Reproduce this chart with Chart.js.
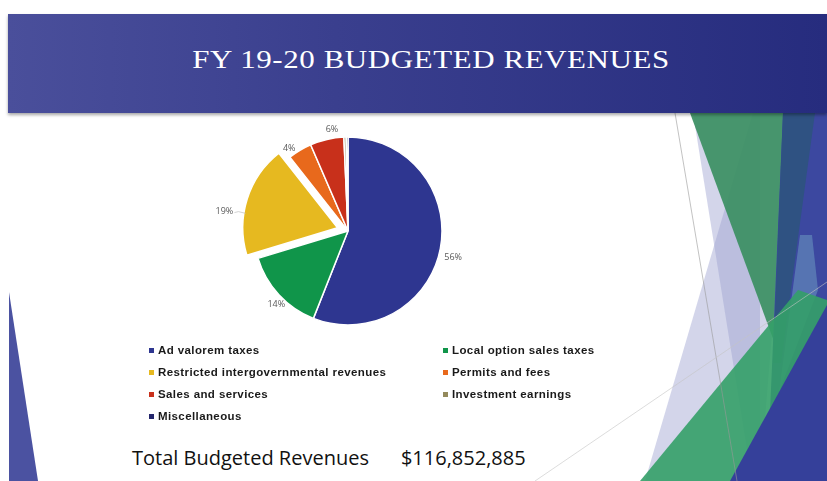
<!DOCTYPE html>
<html>
<head>
<meta charset="utf-8">
<script src="https://cdn.jsdelivr.net/npm/chart.js@4.4.0/dist/chart.umd.min.js"></script>
<style>
  html, body { margin: 0; padding: 0; background: #fff; overflow: hidden; }
  #slide { position: relative; width: 827px; height: 481px; overflow: hidden; background: #fff; }
  #deco { position: absolute; left: 0; top: 0; }
  #titlebar {
    position: absolute; left: 8px; top: 14px; width: 819px; height: 99px;
    background: linear-gradient(to right, #4a4f9b 0%, #3a3f8e 40%, #262c7e 100%);
    box-shadow: 0 2px 3px rgba(0,0,0,0.35);
  }
  #title {
    position: absolute; left: 6px; top: 45px; width: 850px; text-align: center;
    color: #fff; font-family: "Liberation Serif", serif; font-size: 26px; letter-spacing: 0.5px;
    transform: scaleX(1.19); transform-origin: 425px 0; line-height: 30px;
  }
  #pieWrap { position: absolute; left: 198px; top: 111px; width: 300px; height: 240px; }
  .leg { position: absolute; font-family: "Liberation Sans", sans-serif; font-weight: bold;
         font-size: 11.5px; color: #1a1a1a; white-space: nowrap; letter-spacing: 0.4px; }
  .leg i { display: inline-block; width: 5px; height: 5px; margin-right: 4px; vertical-align: 1px; }
  #total { position: absolute; left: 132px; top: 444px; font-family: "Open Sans", sans-serif;
           font-size: 20px; color: #111; white-space: nowrap; }
  #total span { margin-left: 32px; }
</style>
</head>
<body>
<div id="slide">
  <svg id="deco" width="827" height="481">
    <polygon points="9,292 9,481 38,481" fill="#4b52a1"/>
    <polygon points="753,113 790,113 760,481 645,481" fill="#9ea2d0" fill-opacity="0.45"/>
    <polygon points="693,113 760,113 760,481 752,481" fill="#9ea2d0" fill-opacity="0.45"/>
    <polygon points="690,113 815,113 782,363" fill="#3b8f62" fill-opacity="0.92"/>
    <polygon points="783,113 827,113 827,481 767,481" fill="#3c48a0"/>
    <polygon points="783,113 815,113 781,363 773,363" fill="#2f5282"/>
    <polygon points="800,235 812,235 818,290 779,392" fill="#5a7db5" fill-opacity="0.85"/>
    <polygon points="640,481 798,290 827,300 827,481" fill="#34a068" fill-opacity="0.9"/>
    <polygon points="730,481 827,305 827,481" fill="#35409a"/>
    <line x1="675" y1="113" x2="737" y2="481" stroke="#999" stroke-width="0.6"/>
    <line x1="535" y1="481" x2="827" y2="282" stroke="#c4c4c4" stroke-width="0.6"/>
  </svg>
  <div id="titlebar"></div>
  <div id="title">FY 19-20 BUDGETED REVENUES</div>
  <div id="pieWrap"><canvas id="pie" width="300" height="240"></canvas></div>
  <div id="legend"></div>
  <div id="total">Total Budgeted Revenues<span>$116,852,885</span></div>
</div>
<script>
const categories = [
  'Ad valorem taxes',
  'Local option sales taxes',
  'Restricted intergovernmental revenues',
  'Permits and fees',
  'Sales and services',
  'Investment earnings',
  'Miscellaneous'
];
const shares = [56.0, 14.3, 19.1, 4.1, 5.8, 0.4, 0.3];
const sliceColors = ['#2e3690', '#10954a', '#e6b920', '#e8691c', '#c8301b', '#948a5c', '#24266c'];
const sliceOffsets = [0, 0, 44, 0, 0, 0, 0]; // chart.js draws offset / 4 px

// label nudges (px) to mimic the slide's best-fit label spots
const labelNudge = [[0, 6], [7, 1], [-11, 16], [-4, 9], [8, 3], [0, 0], [0, 0]];

// legend in two columns, built from the arrays
const legendCols = [149, 443];
const legendRows = [344, 366, 388, 410];
const legendEl = document.getElementById('legend');
categories.forEach((name, i) => {
  const d = document.createElement('div');
  d.className = 'leg';
  d.style.left = legendCols[i % 2] + 'px';
  d.style.top = legendRows[Math.floor(i / 2)] + 'px';
  d.innerHTML = '<i style="background:' + sliceColors[i] + '"></i>' + name;
  legendEl.appendChild(d);
});

const pctLabels = {
  id: 'pctLabels',
  afterDatasetsDraw(chart) {
    const ctx = chart.ctx;
    const meta = chart.getDatasetMeta(0);
    const data = chart.data.datasets[0].data;
    const total = data.reduce((a, b) => a + b, 0);
    ctx.save();
    ctx.font = '9px "Open Sans", sans-serif';
    ctx.fillStyle = '#595959';
    ctx.textAlign = 'center';
    ctx.textBaseline = 'middle';
    meta.data.forEach((arc, i) => {
      const pct = Math.round(data[i] / total * 100);
      if (pct < 1) return;
      const mid = (arc.startAngle + arc.endAngle) / 2;
      const off = sliceOffsets[i] / 4;
      const dist = arc.outerRadius + 13 + off;
      const x = arc.x + Math.cos(mid) * dist + labelNudge[i][0];
      const y = arc.y + Math.sin(mid) * dist + labelNudge[i][1];
      if (off > 0) {
        // leader line back to the exploded slice
        const ex = arc.x + Math.cos(mid) * off + Math.cos(mid - 0.15) * (arc.outerRadius - 1);
        const ey = arc.y + Math.sin(mid) * off + Math.sin(mid - 0.15) * (arc.outerRadius - 1);
        ctx.strokeStyle = '#bfbfbf';
        ctx.lineWidth = 0.7;
        ctx.beginPath();
        ctx.moveTo(x + 10, y + 1);
        ctx.lineTo(x + 14, y);
        ctx.lineTo(ex, ey);
        ctx.stroke();
      }
      ctx.fillText(pct + '%', x, y);
    });
    ctx.restore();
  }
};

new Chart(document.getElementById('pie').getContext('2d'), {
  type: 'pie',
  data: {
    labels: categories,
    datasets: [{
      data: shares,
      backgroundColor: sliceColors,
      borderColor: '#ffffff',
      borderWidth: 1.5,
      offset: sliceOffsets
    }]
  },
  options: {
    responsive: false,
    animation: false,
    radius: 94,
    plugins: {
      legend: { display: false },
      tooltip: { enabled: false }
    }
  },
  plugins: [pctLabels]
});
</script>
</body>
</html>
